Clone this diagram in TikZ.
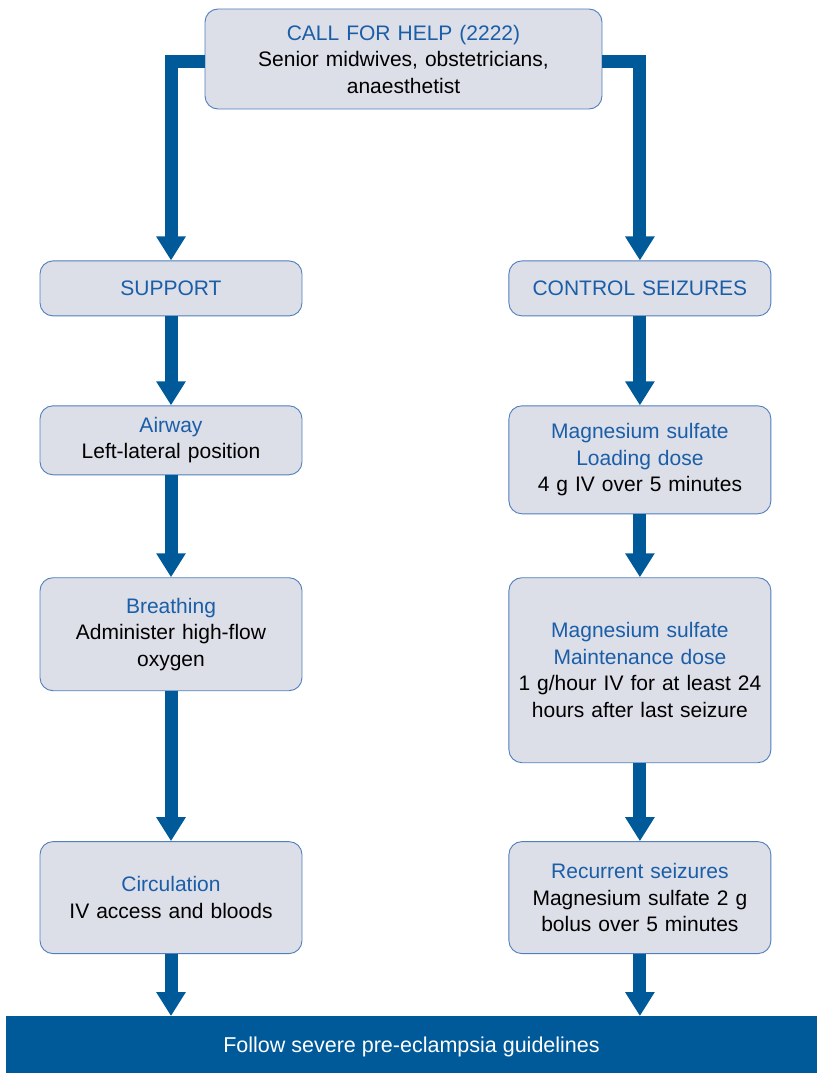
\documentclass[tikz,border=0pt]{standalone}
\usepackage{fontspec}
\setmainfont{Liberation Sans}
\usepackage{tikz}
\usetikzlibrary{positioning, arrows.meta}
\definecolor{boxfill}{HTML}{DCDEE8}
\definecolor{boxline}{HTML}{4F7FBE}
\definecolor{flowblue}{HTML}{005A9A}
\definecolor{headblue}{HTML}{1A5EA8}
\tikzstyle{stage} = [
    rectangle, rounded corners=13pt, draw=boxline, line width=0.9pt, fill=boxfill,
    minimum width=262pt, text width=252pt, inner sep=5pt,
    align=center, font=\fontsize{21}{26.5}\selectfont
]
\tikzstyle{flow} = [
    draw=flowblue, line width=13pt, line join=miter,
    -{Triangle[width=28pt, length=24pt]}
]
\newcommand{\head}[1]{{\color{headblue}#1}}

\begin{document}
\begin{tikzpicture}[x=1pt, y=1pt]
        \useasboundingbox (0,0) rectangle (817,-1073);

        % Call for help
        \node[stage, minimum width=397pt, text width=385pt, minimum height=100pt] (help) at (403.5,-59) {
            \head{CALL FOR HELP (2222)} \\
            Senior midwives, obstetricians, \\
            anaesthetist
        };

        % Two columns
        \node[stage, minimum height=55pt] (support) [below=151pt of help, xshift=-232.5pt] {\head{SUPPORT}};
        \node[stage, minimum height=55pt] (control) [right=206pt of support] {\head{CONTROL SEIZURES}};

        % Support column
        \node[stage, minimum height=69pt] (airway) [below=89pt of support] {
            \head{Airway} \\
            Left-lateral position
        };
        \node[stage, minimum height=113pt] (breathing) [below=102pt of airway] {
            \head{Breathing} \\
            Administer high-flow \\
            oxygen
        };
        \node[stage, minimum height=112pt] (circulation) [below=150pt of breathing] {
            \head{Circulation} \\
            IV access and bloods
        };

        % Seizure column
        \node[stage, minimum height=108pt] (loading) [below=89pt of control] {
            \head{Magnesium sulfate} \\
            \head{Loading dose} \\
            4 g IV over 5 minutes
        };
        \node[stage, minimum height=185pt] (maintenance) [below=63pt of loading] {
            \head{Magnesium sulfate} \\
            \head{Maintenance dose} \\
            1 g/hour IV for at least 24 \\
            hours after last seizure
        };
        \node[stage, minimum height=112pt] (recurrent) [below=78pt of maintenance] {
            \head{Recurrent seizures} \\
            Magnesium sulfate 2 g \\
            bolus over 5 minutes
        };

        % Guidelines bar
        \node[rectangle, fill=flowblue, text=white, minimum width=811pt, minimum height=61pt,
              inner sep=0pt, font=\fontsize{21.5}{24}\selectfont] (guidelines)
              [below=62pt of circulation, xshift=240.5pt] {Follow severe pre-eclampsia guidelines};

        % Connectors
        \draw[flow] ([yshift=-3pt]help.west) -| (support.north);
        \draw[flow] ([yshift=-3pt]help.east) -| (control.north);
        \draw[flow] (support) -- (airway);
        \draw[flow] (airway) -- (breathing);
        \draw[flow] (breathing) -- (circulation);
        \draw[flow] (circulation) -- (circulation |- guidelines.north);
        \draw[flow] (control) -- (loading);
        \draw[flow] (loading) -- (maintenance);
        \draw[flow] (maintenance) -- (recurrent);
        \draw[flow] (recurrent) -- (recurrent |- guidelines.north);

    \end{tikzpicture}
\end{document}
